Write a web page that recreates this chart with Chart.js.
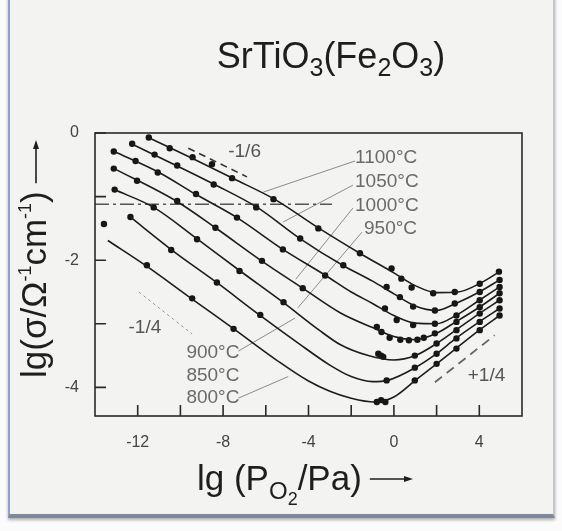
<!DOCTYPE html>
<html><head><meta charset="utf-8">
<script src="https://cdn.jsdelivr.net/npm/chart.js@4.4.0/dist/chart.umd.min.js"></script>
<style>
html,body{margin:0;padding:0;width:562px;height:531px;overflow:hidden;background:#fbfbfb;}
#frame{position:absolute;left:8px;top:-4px;width:543px;height:518px;background:#f3f3f1;border-left:2px solid #8d9fd3;border-right:2px solid #c4c7cf;border-bottom:4px solid #7e8899;box-shadow:0 2px 3px rgba(0,0,0,0.3);}
canvas{position:absolute;left:0;top:0;}
</style></head><body>
<div id="frame"></div>
<canvas id="c" width="562" height="531"></canvas>
<script>
// ---------- data (lg pO2, lg sigma) ----------
const temperatures = ['1100°C','1050°C','1000°C','950°C','900°C','850°C','800°C'];

const c1100 = [[-11.5,-0.07],[-9.5,-0.39],[-7.5,-0.72],[-5.6,-1.04],[-3.5,-1.5],[-1.6,-1.89],[0,-2.2],[1,-2.4],[2,-2.51],[3,-2.5],[4,-2.37],[4.95,-2.18]];
const c1050 = [[-12.3,-0.17],[-10.2,-0.51],[-8.4,-0.81],[-6.4,-1.17],[-4.4,-1.66],[-2.4,-2.08],[-1,-2.33],[0,-2.53],[1,-2.72],[2,-2.79],[2.9,-2.68],[4,-2.5],[4.95,-2.31]];
const c1000 = [[-13.1,-0.29],[-11,-0.62],[-9.3,-0.96],[-7.35,-1.33],[-5.2,-1.83],[-3.2,-2.24],[-2,-2.5],[-1,-2.68],[0,-2.87],[1,-2.99],[2,-3.0],[2.9,-2.87],[4,-2.63],[4.95,-2.42]];
const c950 = [[-13.1,-0.56],[-10.2,-1.07],[-8.36,-1.49],[-6.2,-2.01],[-4.27,-2.44],[-2.5,-2.83],[-1,-3.06],[0,-3.2],[1,-3.25],[2,-3.15],[2.9,-2.97],[4,-2.74],[4.95,-2.52]];
const c900 = [[-13.1,-0.89],[-11.25,-1.17],[-9.2,-1.67],[-7.2,-2.17],[-5.2,-2.66],[-3.5,-3.1],[-2.5,-3.33],[-1.2,-3.5],[0,-3.57],[1,-3.5],[2,-3.31],[2.9,-3.1],[4,-2.84],[4.95,-2.63]];
const c850 = [[-12.35,-1.32],[-10.4,-1.84],[-8.3,-2.35],[-6.3,-2.86],[-4.5,-3.3],[-3,-3.65],[-2,-3.83],[-1,-3.91],[-0.3,-3.89],[1,-3.69],[2,-3.47],[2.9,-3.23],[4,-2.97],[4.95,-2.76]];
const c800 = [[-13.4,-1.69],[-11.6,-2.09],[-9.5,-2.6],[-7.5,-3.08],[-5.5,-3.57],[-4,-3.9],[-3,-4.06],[-2,-4.17],[-0.9,-4.23],[0,-4.15],[1,-3.89],[2,-3.63],[2.9,-3.39],[4,-3.1],[4.95,-2.87]];

const m1100 = [[-11.48,-0.07],[-10.5,-0.24],[-9.43,-0.38],[-8.52,-0.49],[-7.58,-0.71],[-5.64,-1.04],[-3.54,-1.5],[-1.59,-1.89],[-0.11,-2.13],[0.35,-2.29],[0.83,-2.43],[1.84,-2.52],[2.85,-2.5],[4.02,-2.37],[4.92,-2.18]];
const m1050 = [[-12.26,-0.17],[-11.21,-0.34],[-10.15,-0.51],[-8.44,-0.81],[-6.45,-1.17],[-4.39,-1.66],[-2.37,-2.08],[-0.34,-2.42],[0.28,-2.58],[0.9,-2.73],[1.92,-2.79],[2.85,-2.68],[4.02,-2.5],[4.95,-2.31]];
const m1000 = [[-13.12,-0.29],[-12.1,-0.44],[-11.06,-0.62],[-9.27,-0.96],[-7.35,-1.33],[-5.2,-1.83],[-3.22,-2.24],[-0.42,-2.76],[0.13,-2.94],[0.9,-3.02],[1.92,-3.0],[2.93,-2.87],[4.02,-2.63],[4.95,-2.42]];
const m950 = [[-13.12,-0.56],[-12.03,-0.75],[-10.15,-1.07],[-8.36,-1.49],[-6.18,-2.01],[-4.27,-2.44],[-0.8,-3.05],[-0.58,-3.13],[-0.2,-3.22],[0.3,-3.25],[0.7,-3.26],[1.1,-3.25],[1.4,-3.22],[1.92,-3.15],[2.93,-2.97],[4.02,-2.74],[4.95,-2.52]];
const m900 = [[-13.08,-0.89],[-11.25,-1.17],[-9.22,-1.67],[-7.23,-2.17],[-5.17,-2.66],[-0.73,-3.47],[-0.6,-3.5],[-0.5,-3.52],[0.98,-3.5],[2.0,-3.31],[2.93,-3.1],[4.02,-2.84],[4.95,-2.63]];
const m850 = [[-13.58,-1.43],[-12.34,-1.32],[-10.43,-1.84],[-8.29,-2.35],[-6.26,-2.86],[-0.34,-3.89],[0.98,-3.69],[2.0,-3.47],[2.93,-3.23],[4.02,-2.97],[4.95,-2.76]];
const m800 = [[-11.57,-2.08],[-9.45,-2.6],[-7.51,-3.08],[-0.8,-4.23],[-0.6,-4.2],[-0.4,-4.23],[0.98,-3.89],[2.0,-3.63],[2.93,-3.39],[4.02,-3.1],[4.95,-2.87]];

const slopeMinus16 = [[-9.63,-0.24],[-6.88,-0.69]];
const slopeMinus14 = [[-11.95,-2.5],[-9.45,-3.16]];
const slopePlus14 = [[1.92,-3.92],[4.72,-3.18]];
const refLevel = [[-14,-1.12],[-2.9,-1.12]];

const leader1100 = [[-6.12,-0.93],[-1.82,-0.44]];
const leader1050 = [[-5.19,-1.40],[-1.92,-0.82]];
const leader1000 = [[-4.6,-2.3],[-1.92,-1.18]];
const leader950 = [[-4.5,-2.75],[-1.5,-1.56]];
const leader900 = [[-7.29,-3.43],[-4.63,-2.91]];
const leader800 = [[-7.29,-4.17],[-4.95,-3.83]];

const xTickValues = [-12,-10,-8,-6,-4,-2,0,2,4];
const xTickLabels = [-12,-8,-4,0,4];
const yTickValues = [-4,-3,-2,-1,0];
const yTickLabels = [0,-2,-4];

// label anchor points (data coords)
const tempLabelPos = [[-1.82,-0.39],[-1.82,-0.77],[-1.82,-1.15],[-1.40,-1.51],[-9.72,-3.45],[-9.72,-3.81],[-9.72,-4.17]];
const slopeLabels = ['-1/6','-1/4','+1/4'];
const slopeLabelPos = [[-7.76,-0.30],[-12.43,-3.06],[3.46,-3.81]];

// ---------- build ----------
const FONT = "'Liberation Sans', Arial, Helvetica, sans-serif";
const toXY = a => a.map(([x,y]) => ({x,y}));
const datasets = [];
[c1100,c1050,c1000,c950,c900,c850,c800].forEach((c,i) => datasets.push({
  label: temperatures[i], data: toXY(c), showLine: true, pointRadius: 0,
  borderColor: '#1c1c1c', borderWidth: 1.6, cubicInterpolationMode: 'monotone', fill: false
}));
[m1100,m1050,m1000,m950,m900,m850,m800].forEach((m,i) => datasets.push({
  label: temperatures[i]+' data', data: toXY(m), showLine: false, pointRadius: 3.2,
  backgroundColor: '#151515', borderColor: '#151515', borderWidth: 0
}));
datasets.push({data: toXY(slopeMinus16), showLine:true, pointRadius:0, borderColor:'#333', borderWidth:1.6, borderDash:[7,5]});
datasets.push({data: toXY(slopeMinus14), showLine:true, pointRadius:0, borderColor:'#999', borderWidth:1, borderDash:[3,3]});
datasets.push({data: toXY(slopePlus14), showLine:true, pointRadius:0, borderColor:'#666', borderWidth:1.8, borderDash:[9,6]});
datasets.push({data: toXY(refLevel), showLine:true, pointRadius:0, borderColor:'#555', borderWidth:1.3, borderDash:[14,4,3,4]});
[leader1100,leader1050,leader1000,leader950,leader900,leader800].forEach(l => datasets.push({
  data: toXY(l), showLine:true, pointRadius:0, borderColor:'#8a8a8a', borderWidth:1
}));

function drawRich(ctx, x, y, segs) {
  let cx = x;
  segs.forEach(s => {
    ctx.font = s.s + 'px ' + FONT;
    ctx.fillText(s.t, cx, y + (s.dy || 0));
    cx += ctx.measureText(s.t).width;
  });
  return cx;
}
function richWidth(ctx, segs) {
  let w = 0;
  segs.forEach(s => { ctx.font = s.s + 'px ' + FONT; w += ctx.measureText(s.t).width; });
  return w;
}
function arrow(ctx, x1, y, x2) {
  ctx.beginPath(); ctx.moveTo(x1, y); ctx.lineTo(x2 - 6, y); ctx.stroke();
  ctx.beginPath(); ctx.moveTo(x2, y); ctx.lineTo(x2 - 9, y - 3); ctx.lineTo(x2 - 9, y + 3); ctx.closePath(); ctx.fill();
}

const deco = {
  id: 'deco',
  afterDraw(chart) {
    const {ctx, chartArea: a, scales: {x, y}} = chart;
    ctx.save();
    ctx.strokeStyle = '#2a2a2a'; ctx.lineWidth = 1.6;
    ctx.strokeRect(a.left, a.top, a.right - a.left, a.bottom - a.top);
    ctx.beginPath();
    xTickValues.forEach(v => { const px = x.getPixelForValue(v); ctx.moveTo(px, a.bottom); ctx.lineTo(px, a.bottom - 11); });
    yTickValues.forEach(v => { const py = y.getPixelForValue(v); ctx.moveTo(a.left, py); ctx.lineTo(a.left + 11, py); });
    ctx.stroke();

    ctx.textBaseline = 'middle'; ctx.textAlign = 'left';
    ctx.fillStyle = '#6a6a6a';
    ctx.font = '19px ' + FONT;
    temperatures.forEach((t, i) => ctx.fillText(t, x.getPixelForValue(tempLabelPos[i][0]), y.getPixelForValue(tempLabelPos[i][1])));
    ctx.fillStyle = '#555';
    ctx.font = '19px ' + FONT;
    slopeLabels.forEach((t, i) => ctx.fillText(t, x.getPixelForValue(slopeLabelPos[i][0]), y.getPixelForValue(slopeLabelPos[i][1])));

    // title
    ctx.textBaseline = 'alphabetic';
    ctx.fillStyle = '#1e1e1e';
    const tSegs = [{t:'SrTiO',s:36},{t:'3',s:25,dy:8},{t:'(Fe',s:36},{t:'2',s:25,dy:8},{t:'O',s:36},{t:'3',s:25,dy:8},{t:')',s:36}];
    drawRich(ctx, 331 - richWidth(ctx, tSegs) / 2, 68, tSegs);

    // x title
    const xSegs = [{t:'lg (P',s:35},{t:'O',s:24,dy:9},{t:'2',s:18,dy:15},{t:'/Pa)',s:35}];
    const xe = drawRich(ctx, 197, 490, xSegs);
    ctx.strokeStyle = '#1e1e1e'; ctx.lineWidth = 1.6;
    arrow(ctx, xe + 8, 479, 413);

    // y title (rotated)
    ctx.translate(46, 378); ctx.rotate(-Math.PI / 2);
    const ySegs = [{t:'lg(σ/Ω',s:35},{t:'-1',s:18,dy:-15},{t:'cm',s:35},{t:'-1',s:18,dy:-15},{t:')',s:35}];
    const ye = drawRich(ctx, 0, 0, ySegs);
    arrow(ctx, ye + 8, -10, 238);
    ctx.restore();
  }
};

new Chart(document.getElementById('c'), {
  type: 'scatter',
  data: { datasets },
  options: {
    responsive: false, animation: false, devicePixelRatio: 1,
    layout: { padding: { top: 133, right: 40, left: 0, bottom: 0 } },
    plugins: { legend: {display:false}, tooltip: {enabled:false}, title: {display:false} },
    scales: {
      x: {
        type: 'linear', min: -14, max: 6,
        afterFit(s) { s.height = 115; },
        grid: { display: false, drawTicks: false },
        border: { display: false },
        afterBuildTicks(s) { s.ticks = xTickValues.map(v => ({value: v})); },
        ticks: { autoSkip: false, maxRotation: 0, padding: 17, color: '#444',
          font: { size: 16, family: FONT },
          callback: v => xTickLabels.includes(v) ? String(v) : '' }
      },
      y: {
        type: 'linear', min: -4.45, max: 0,
        afterFit(s) { s.width = 95; },
        grid: { display: false, drawTicks: false },
        border: { display: false },
        afterBuildTicks(s) { s.ticks = yTickValues.map(v => ({value: v})); },
        ticks: { autoSkip: false, padding: 16, color: '#444',
          font: { size: 16, family: FONT },
          callback: v => yTickLabels.includes(v) ? String(v) : '' }
      }
    }
  },
  plugins: [deco]
});
</script></body></html>
